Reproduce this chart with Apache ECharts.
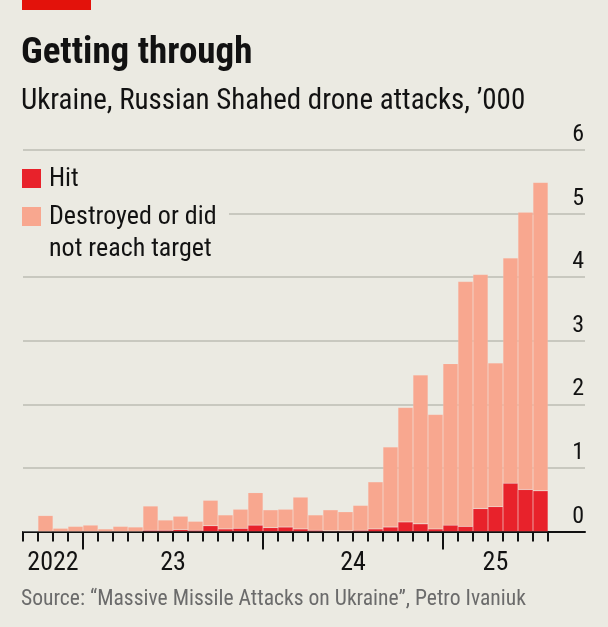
<!DOCTYPE html>
<html>
<head>
<meta charset="utf-8">
<script src="https://cdn.jsdelivr.net/npm/echarts@6/dist/echarts.min.js"></script>
<style>
  html, body { margin: 0; padding: 0; background: #ebeae2; }
  #chart { width: 608px; height: 627px; }
</style>
</head>
<body>
<div id="chart"></div>
<script>
// monthly, Sep 2022 - Jul 2025, thousands of drones
const months = [
  '2022-09', '2022-10', '2022-11', '2022-12',
  '2023-01', '2023-02', '2023-03', '2023-04', '2023-05', '2023-06',
  '2023-07', '2023-08', '2023-09', '2023-10', '2023-11', '2023-12',
  '2024-01', '2024-02', '2024-03', '2024-04', '2024-05', '2024-06',
  '2024-07', '2024-08', '2024-09', '2024-10', '2024-11', '2024-12',
  '2025-01', '2025-02', '2025-03', '2025-04', '2025-05', '2025-06', '2025-07'
];
const hit = [
  0, 0, 0, 0,
  0, 0, 0, 0, 0.02, 0.02, 0.03, 0.02, 0.09, 0.04, 0.05, 0.10,
  0.06, 0.07, 0.04, 0.02, 0.01, 0.01, 0.02, 0.04, 0.07, 0.15, 0.12, 0.04,
  0.10, 0.08, 0.36, 0.39, 0.76, 0.66, 0.64
];
const destroyed = [
  0, 0.25, 0.05, 0.08,
  0.10, 0.04, 0.08, 0.07, 0.38, 0.16, 0.21, 0.14, 0.40, 0.22, 0.30, 0.51,
  0.28, 0.28, 0.50, 0.24, 0.33, 0.30, 0.39, 0.74, 1.26, 1.80, 2.34, 1.80,
  2.54, 3.85, 3.68, 2.26, 3.54, 4.36, 4.85
];
const yearNames = { '2022': '2022', '2023': '23', '2024': '24', '2025': '25' };

const BG = '#ebeae2';
const RED = '#e8222b';
const PINK = '#f8a78f';
const FONT = '"Liberation Sans Narrow", "Roboto Condensed", "DejaVu Sans Condensed", Roboto, sans-serif';

// year label sits in the middle of that year's months, year start gets a long tick
let yearLabelAt = {};
let yearStarts = [];
let firstIdx = {}, lastIdx = {};
months.forEach((m, i) => {
  let y = m.slice(0, 4);
  if (firstIdx[y] === undefined) {
    firstIdx[y] = i;
    if (i > 0) yearStarts.push(i);
  }
  lastIdx[y] = i + 1;
});
Object.keys(firstIdx).forEach(y => {
  yearLabelAt[(firstIdx[y] + lastIdx[y]) / 2] = yearNames[y];
});
const monthTicks = months.map((m, i) => i).concat([months.length]);
const xMax = months.length + 2.47; // axis runs on past the last month

const chart = echarts.init(document.getElementById('chart'));

const option = {
  backgroundColor: BG,
  animation: false,
  title: [
    {
      text: 'Getting through',
      left: 21, top: 35, padding: 0,
      textStyle: { fontFamily: FONT, fontSize: 37, fontWeight: 'bold', color: '#121212' }
    },
    {
      text: 'Ukraine, Russian Shahed drone attacks, \u2019000',
      left: 21, top: 87.5, padding: 0,
      textStyle: { fontFamily: FONT, fontSize: 29, fontWeight: 'normal', color: '#121212' }
    },
    {
      text: 'Source: \u201cMassive Missile Attacks on Ukraine\u201d, Petro Ivaniuk',
      left: 21, top: 589, padding: 0,
      textStyle: { fontFamily: FONT, fontSize: 21.6, fontWeight: 'normal', color: '#6b6b6b' }
    }
  ],
  graphic: [
    { type: 'rect', shape: { x: 22, y: 0, width: 69, height: 10 }, style: { fill: '#e3120b' } },
    // legend, with a patch that breaks the gridline behind it
    { type: 'rect', z: 100, shape: { x: 18, y: 162, width: 211, height: 100 }, style: { fill: BG } },
    { type: 'rect', z: 101, shape: { x: 22, y: 169, width: 19, height: 19 }, style: { fill: RED } },
    { type: 'rect', z: 101, shape: { x: 22, y: 207, width: 19, height: 19 }, style: { fill: PINK } },
    { type: 'text', z: 101, style: { x: 49, y: 166.5, text: 'Hit', font: '26px ' + FONT, fill: '#121212' } },
    { type: 'text', z: 101, style: { x: 49, y: 201, text: 'Destroyed or did\nnot reach target', lineHeight: 32, font: '26px ' + FONT, fill: '#121212' } }
  ],
  grid: [
    { left: 23, right: 23, top: 150, bottom: 95.5 },
    // bars only, ends where the data ends
    { left: 23, right: 60, top: 150, bottom: 95.5 }
  ],
  xAxis: [
    {
      type: 'value', min: 0, max: xMax, gridIndex: 0,
      axisLine: { show: true, onZero: false, lineStyle: { color: '#111', width: 2 } },
      axisTick: { show: true, customValues: monthTicks, length: 10, lineStyle: { color: '#111', width: 2 } },
      axisLabel: {
        customValues: Object.keys(yearLabelAt).map(Number),
        formatter: v => yearLabelAt[v] || '',
        margin: 19, fontFamily: FONT, fontSize: 26, color: '#121212'
      },
      splitLine: { show: false }
    },
    {
      type: 'value', min: 0, max: xMax, gridIndex: 0, position: 'bottom',
      axisLine: { show: false },
      axisTick: { show: true, customValues: yearStarts, length: 18, lineStyle: { color: '#111', width: 2 } },
      axisLabel: { show: false },
      splitLine: { show: false }
    },
    {
      type: 'category', data: months, gridIndex: 1, boundaryGap: true, show: false
    }
  ],
  yAxis: [
    {
      type: 'value', min: 0, max: 6, interval: 1, position: 'right', gridIndex: 0,
      axisLine: { show: false },
      axisTick: { show: false },
      axisLabel: {
        inside: true, margin: 1, verticalAlign: 'bottom', padding: [0, 0, 3, 0],
        fontFamily: FONT, fontSize: 24, color: '#121212'
      },
      splitLine: { lineStyle: { color: '#bdbcb3', width: 1.5 } }
    },
    { type: 'value', min: 0, max: 6, gridIndex: 1, show: false, splitLine: { show: false } }
  ],
  series: [
    {
      name: 'Hit', type: 'bar', stack: 'all', barWidth: '100%',
      xAxisIndex: 2, yAxisIndex: 1,
      itemStyle: { color: RED, borderColor: 'rgba(255,255,255,0.18)', borderWidth: 0.5 },
      data: hit
    },
    {
      name: 'Destroyed or did not reach target', type: 'bar', stack: 'all', barWidth: '100%',
      xAxisIndex: 2, yAxisIndex: 1,
      itemStyle: { color: PINK, borderColor: 'rgba(255,255,255,0.18)', borderWidth: 0.5 },
      data: destroyed
    }
  ]
};

chart.setOption(option);
</script>
</body>
</html>
